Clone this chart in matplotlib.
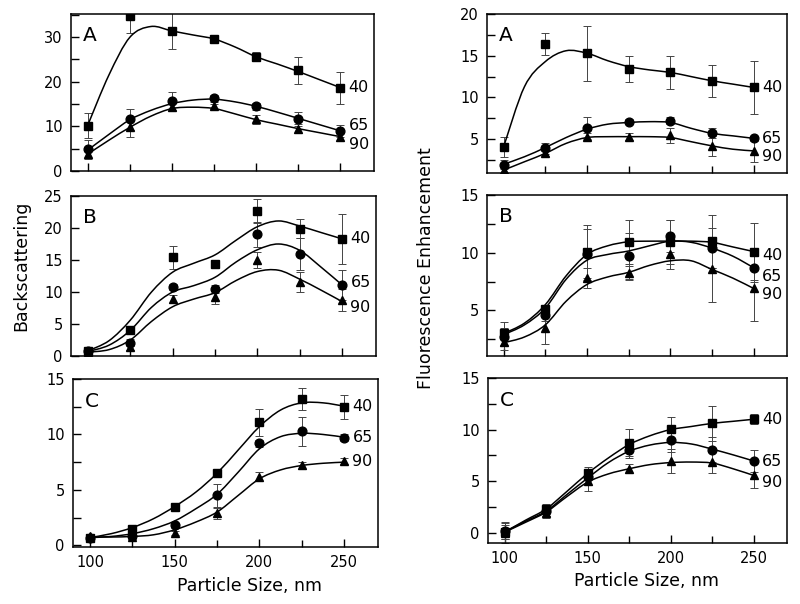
import numpy as np
import matplotlib
matplotlib.use('Agg')
import matplotlib.pyplot as plt
from matplotlib.path import Path
from matplotlib.patches import PathPatch
from matplotlib.ticker import MultipleLocator

plt.rcParams['font.family'] = 'DejaVu Sans'

# particle sizes (nm) and grid the drawn fit curves were read on
size = [100, 125, 150, 175, 200, 225, 250]
size_fit = [100, 112.5, 125, 137.5, 150, 162.5, 175, 187.5, 200, 212.5, 225, 237.5, 250]
series = ['40', '65', '90']

# Backscattering, panel A
bsA40 = [10.1, 34.7, 31.4, 29.7, 25.6, 22.6, 18.7]
bsA40_err = [2.8, 3.8, 4.0, 0.5, 1.0, 3.0, 3.6]
bsA40_fit = [10.3, 21.5, 30, 32.4, 31.4, 30.5, 29.6, 27.8, 25.6, 24.0, 22.3, 20.5, 18.7]
bsA65 = [4.85, 11.6, 15.7, 16.3, 14.5, 11.7, 9.0]
bsA65_err = [2.0, 2.4, 2.0, 0.8, 0.8, 1.5, 1.3]
bsA65_fit = [4.7, 8.2, 11.5, 13.6, 15.1, 15.9, 16.1, 15.5, 14.5, 13.2, 11.8, 10.4, 9.0]
bsA90 = [3.8, 9.9, 14.4, 14.5, 11.6, 9.5, 7.7]
bsA90_err = [1.0, 2.2, 1.0, 0.5, 1.0, 1.0, 1.0]
bsA90_fit = [3.8, 6.9, 9.8, 12.3, 14.0, 14.3, 14.0, 12.8, 11.5, 10.5, 9.5, 8.6, 7.7]

# Backscattering, panel B
bsB40 = [0.8, 4.1, 15.4, 14.4, 22.7, 19.9, 18.3]
bsB40_err = [0.3, 0.5, 1.8, 0.6, 1.9, 1.5, 3.9]
bsB40_fit = [0.8, 2.4, 5.6, 10.0, 13.1, 14.5, 15.8, 18.1, 20.2, 21.1, 20.3, 19.3, 18.3]
bsB65 = [0.8, 2.1, 10.8, 10.5, 19.0, 16.0, 11.1]
bsB65_err = [0.3, 0.5, 0.5, 0.6, 2.0, 2.5, 2.4]
bsB65_fit = [0.7, 1.7, 4.0, 7.6, 10.0, 11.0, 12.3, 14.7, 16.6, 17.5, 16.5, 13.9, 11.1]
bsB90 = [0.6, 1.4, 8.9, 9.2, 15.0, 11.6, 8.7]
bsB90_err = [0.3, 0.5, 0.6, 1.1, 1.2, 1.6, 1.7]
bsB90_fit = [0.6, 1.0, 2.5, 5.4, 7.7, 8.9, 9.9, 11.8, 13.2, 13.4, 12.0, 10.3, 8.5]

# Backscattering, panel C
bsC40 = [0.7, 1.5, 3.5, 6.5, 11.1, 13.2, 12.5]
bsC40_err = [0.2, 0.2, 0.2, 0.2, 1.2, 1.0, 1.1]
bsC40_fit = [0.7, 1.05, 1.6, 2.4, 3.5, 4.8, 6.5, 8.6, 10.7, 12.2, 12.85, 12.85, 12.55]
bsC65 = [0.7, 0.85, 1.8, 4.5, 9.2, 10.3, 9.7]
bsC65_err = [0.2, 0.2, 0.2, 1.0, 0.3, 1.3, 0.3]
bsC65_fit = [0.7, 0.8, 1.05, 1.5, 2.2, 3.3, 4.6, 6.6, 8.7, 9.8, 10.1, 10.0, 9.75]
bsC90 = [0.85, 0.75, 1.1, 2.9, 6.2, 7.2, 7.6]
bsC90_err = [0.2, 0.2, 0.2, 0.5, 0.4, 0.3, 0.3]
bsC90_fit = [0.75, 0.75, 0.8, 0.95, 1.4, 2.1, 3.0, 4.5, 6.0, 6.8, 7.2, 7.4, 7.5]

# Fluorescence enhancement, panel A
flA40 = [4.1, 16.4, 15.3, 13.4, 13.0, 12.0, 11.2]
flA40_err = [1.2, 1.3, 3.3, 1.6, 2.0, 1.9, 3.2]
flA40_fit = [4.1, 11.3, 14.3, 15.6, 15.3, 14.4, 13.7, 13.3, 13.0, 12.5, 12.0, 11.6, 11.2]
flA65 = [1.96, 3.9, 6.3, 7.1, 7.2, 5.8, 5.1]
flA65_err = [0.5, 0.7, 1.3, 0.3, 0.4, 0.6, 0.3]
flA65_fit = [2.0, 2.9, 4.0, 5.2, 6.2, 6.8, 7.0, 7.1, 7.0, 6.3, 5.7, 5.4, 5.1]
flA90 = [1.3, 3.3, 5.3, 5.3, 5.5, 4.2, 3.6]
flA90_err = [0.3, 0.3, 0.4, 0.4, 0.9, 1.2, 1.3]
flA90_fit = [1.3, 2.3, 3.3, 4.5, 5.2, 5.3, 5.3, 5.3, 5.2, 4.7, 4.2, 3.8, 3.6]

# Fluorescence enhancement, panel B
flB40 = [3.0, 5.1, 10.1, 10.9, 10.9, 11.0, 10.1]
flB40_err = [1.0, 0.3, 2.3, 1.9, 1.9, 2.3, 2.5]
flB40_fit = [3.0, 3.9, 5.5, 8.0, 9.85, 10.6, 10.95, 11.0, 11.0, 11.0, 10.9, 10.5, 10.1]
flB65 = [2.7, 4.6, 9.85, 9.7, 11.45, 10.4, 8.7]
flB65_err = [0.8, 0.5, 2.2, 2.0, 1.4, 1.7, 1.2]
flB65_fit = [2.9, 3.75, 5.2, 7.7, 9.35, 9.85, 10.15, 10.6, 11.0, 10.9, 10.4, 9.7, 8.7]
flB90 = [2.3, 3.5, 7.8, 8.25, 9.85, 8.55, 6.9]
flB90_err = [0.7, 1.4, 0.9, 0.6, 1.3, 2.85, 2.8]
flB90_fit = [2.2, 2.7, 3.75, 5.8, 7.25, 7.9, 8.3, 8.9, 9.3, 9.3, 8.55, 7.8, 6.9]

# Fluorescence enhancement, panel C
flC40 = [0.05, 2.3, 5.8, 8.65, 10.05, 10.6, 11.0]
flC40_err = [0.7, 0.5, 0.6, 1.4, 1.2, 1.7, 0.5]
flC40_fit = [0.05, 1.2, 2.3, 4.0, 5.75, 7.25, 8.55, 9.4, 10.0, 10.3, 10.6, 10.8, 11.0]
flC65 = [0.15, 2.1, 5.4, 8.0, 9.0, 8.05, 6.95]
flC65_err = [0.8, 0.5, 0.8, 0.6, 1.2, 1.2, 1.1]
flC65_fit = [0.1, 1.1, 2.1, 3.7, 5.3, 6.8, 7.9, 8.5, 8.75, 8.6, 8.1, 7.55, 6.95]
flC90 = [0.0, 1.95, 5.0, 6.2, 6.95, 6.85, 5.55]
flC90_err = [1.0, 0.5, 1.0, 0.45, 1.2, 1.1, 1.25]
flC90_fit = [0.05, 1.0, 2.0, 3.5, 4.9, 5.7, 6.2, 6.6, 6.8, 6.85, 6.75, 6.2, 5.55]


def smooth_path(xs, ys):
    # Catmull-Rom through the read curve points, drawn as cubic Bezier
    p = np.column_stack([xs, ys]).astype(float)
    ext = np.vstack([p[0], p, p[-1]])
    verts = [p[0]]
    codes = [Path.MOVETO]
    for i in range(len(p) - 1):
        p0, p1, p2, p3 = ext[i], ext[i + 1], ext[i + 2], ext[i + 3]
        verts += [p1 + (p2 - p0) / 6, p2 - (p3 - p1) / 6, p2]
        codes += [Path.CURVE4] * 3
    return Path(verts, codes)


fig = plt.figure(figsize=(8, 6.04), dpi=100)
H = 604.0


def make_axes(x0, x1, y0, y1):
    return fig.add_axes([x0 / 800, 1 - y1 / H, (x1 - x0) / 800, (y1 - y0) / H])


panels = [
    # axes box (px), ylim, major, minor, letter, data, label offsets (pt)
    ((71, 374, 14, 171), (0, 35.2), 10, 5, 'A',
     [(bsA40, bsA40_err, bsA40_fit), (bsA65, bsA65_err, bsA65_fit), (bsA90, bsA90_err, bsA90_fit)],
     [0, 3.5, -6]),
    ((71, 376, 196, 356), (0, 25), 5, None, 'B',
     [(bsB40, bsB40_err, bsB40_fit), (bsB65, bsB65_err, bsB65_fit), (bsB90, bsB90_err, bsB90_fit)],
     [0, 1.5, -5]),
    ((73, 378, 379, 547), (-0.15, 15), 5, 2.5, 'C',
     [(bsC40, bsC40_err, bsC40_fit), (bsC65, bsC65_err, bsC65_fit), (bsC90, bsC90_err, bsC90_fit)],
     [0, 0, 0]),
    ((487, 787, 14, 173), (0.95, 20), 5, 2.5, 'A',
     [(flA40, flA40_err, flA40_fit), (flA65, flA65_err, flA65_fit), (flA90, flA90_err, flA90_fit)],
     [0, 0, -4]),
    ((487, 787, 195, 356), (1.05, 15), 5, 2.5, 'B',
     [(flB40, flB40_err, flB40_fit), (flB65, flB65_err, flB65_fit), (flB90, flB90_err, flB90_fit)],
     [-3, -6, -4]),
    ((488, 787, 378, 543), (-1, 15), 5, 2.5, 'C',
     [(flC40, flC40_err, flC40_fit), (flC65, flC65_err, flC65_fit), (flC90, flC90_err, flC90_fit)],
     [0, 0, -5]),
]

markers = ['s', 'o', '^']

for box, ylim, major, minor, letter, data, dys in panels:
    ax = make_axes(*box)
    for (vals, err, fit), mk, name, dy in zip(data, markers, series, dys):
        ax.errorbar(size, vals, yerr=err, fmt='none', ecolor='#444444',
                    elinewidth=0.7, capsize=3.2, capthick=0.7, zorder=2)
        ax.add_patch(PathPatch(smooth_path(size_fit, fit), fill=False,
                               edgecolor='black', lw=1.1, zorder=3))
        ax.plot(size, vals, marker=mk, ls='none', color='black',
                ms=6 if mk != 'o' else 6.3, zorder=4)
        ax.annotate(name, (size[-1], vals[-1]), xytext=(6, dy),
                    textcoords='offset points', ha='left', va='center',
                    fontsize=11.5)
    ax.set_xlim(90, 270)
    ax.set_ylim(*ylim)
    ax.xaxis.set_major_locator(MultipleLocator(50))
    ax.xaxis.set_minor_locator(MultipleLocator(25))
    ax.yaxis.set_major_locator(MultipleLocator(major))
    if minor:
        ax.yaxis.set_minor_locator(MultipleLocator(minor))
    ax.tick_params(which='both', direction='in', width=1.0, labelsize=10.5)
    ax.tick_params(which='major', length=6, pad=6)
    ax.tick_params(which='minor', length=6)
    ax.tick_params(axis='x', which='minor', length=5)
    if letter != 'C':
        ax.tick_params(axis='x', labelbottom=False)
    for s in ax.spines.values():
        s.set_linewidth(1.1)
    ax.text(0.04, 0.865, letter, transform=ax.transAxes, fontsize=14.5,
            ha='left', va='center')

fig.text(0.027, 0.56, 'Backscattering', rotation=90, ha='center', va='center', fontsize=12.5)
fig.text(0.532, 0.556, 'Fluorescence Enhancement', rotation=90, ha='center', va='center', fontsize=12.5)
fig.text(249 / 800, 1 - 586 / H, 'Particle Size, nm', ha='center', va='center', fontsize=12.5)
fig.text(646 / 800, 1 - 581 / H, 'Particle Size, nm', ha='center', va='center', fontsize=12.5)

fig.savefig('out.png', dpi=100)
